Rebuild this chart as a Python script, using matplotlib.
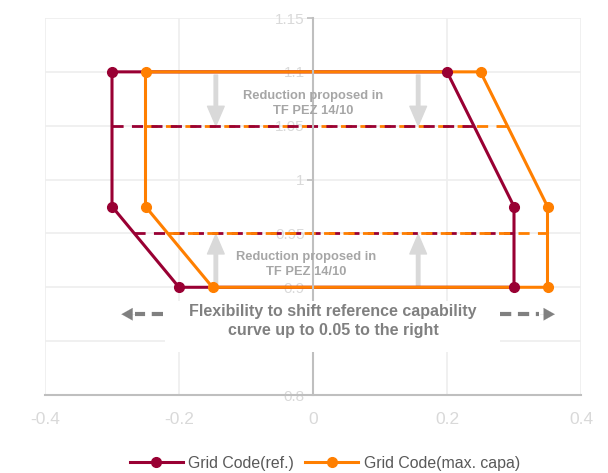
import matplotlib
matplotlib.use("Agg")
import matplotlib.pyplot as plt
from matplotlib.patches import Rectangle

plt.rcParams['font.family'] = ['Liberation Sans', 'DejaVu Sans']

# Capability curves (closed polygons)
ref_x = [-0.3, 0.2, 0.3, 0.3, -0.2, -0.3, -0.3]
ref_y = [1.1, 1.1, 0.975, 0.9, 0.9, 0.975, 1.1]
max_x = [-0.25, 0.25, 0.35, 0.35, -0.15, -0.25, -0.25]
max_y = [1.1, 1.1, 0.975, 0.9, 0.9, 0.975, 1.1]

# Proposed reduced limits
upper_cut_y = 1.05
ref_upper_x = [-0.3, 0.24]
max_upper_x = [-0.25, 0.29]
lower_cut_y = 0.95
ref_lower_x = [-0.267, 0.3]
max_lower_x = [-0.217, 0.35]

x_ticks = [-0.4, -0.2, 0, 0.2, 0.4]
x_labels = ['-0.4', '-0.2', '0', '0.2', '0.4']
# the 0.85 label sits under the note panel
y_ticks = [0.8, 0.85, 0.9, 0.95, 1.0, 1.05, 1.1, 1.15]
y_labels = ['0.8', '', '0.9', '0.95', '1', '1.05', '1.1', '1.15']

arrow_x = [-0.145, 0.157]

RED = '#990033'
ORANGE = '#FF7F00'
LIGHT = '#d9d9d9'
GRID = '#eeeeee'

fig = plt.figure(figsize=(6.08, 4.73), dpi=100)
ax = fig.add_axes([45 / 608, 1 - 395 / 473, 536 / 608, 377 / 473])

ax.set_xlim(-0.4, 0.4)
ax.set_ylim(0.8, 1.15)
ax.set_xticks(x_ticks)
ax.set_xticklabels(x_labels)
ax.set_yticks(y_ticks)
ax.set_yticklabels(y_labels)
ax.grid(True, color=GRID, lw=1.2)

for s in ['top', 'right']:
    ax.spines[s].set_visible(False)
ax.spines['left'].set_position(('data', 0))
ax.spines['left'].set_color('#bfbfbf')
ax.spines['left'].set_linewidth(1.5)
ax.spines['bottom'].set_color('#bfbfbf')
ax.spines['bottom'].set_linewidth(1.5)
ax.tick_params(axis='y', colors='#bfbfbf', labelcolor=LIGHT, labelsize=11,
               length=4, width=1.2, pad=2)
ax.tick_params(axis='x', length=0, labelcolor=LIGHT, labelsize=12.5, pad=12)

# dashed reduction levels
ax.plot(max_upper_x, [upper_cut_y] * 2, color=ORANGE, lw=2, ls=(0, (4, 3)), zorder=1.6)
ax.plot(ref_upper_x, [upper_cut_y] * 2, color=RED, lw=2, ls=(0, (4, 3)), zorder=1.7)
ax.plot(ref_lower_x, [lower_cut_y] * 2, color=RED, lw=2, ls=(0, (4, 3)), zorder=1.6)
ax.plot(max_lower_x, [lower_cut_y] * 2, color=ORANGE, lw=2, ls=(0, (4, 3)), zorder=1.7)

# reduction arrows
for xa in arrow_x:
    ax.annotate('', xy=(xa, 1.05), xytext=(xa, 1.097),
                arrowprops=dict(width=2.5, headwidth=12, headlength=14,
                                color=LIGHT, shrink=0), zorder=1.5)
    ax.annotate('', xy=(xa, 0.949), xytext=(xa, 0.9),
                arrowprops=dict(width=2.5, headwidth=12, headlength=14,
                                color=LIGHT, shrink=0), zorder=1.5)

# curves: lines first, then markers
ax.plot(ref_x, ref_y, color=RED, lw=2.2, zorder=2.0)
ax.plot(max_x, max_y, color=ORANGE, lw=2.2, zorder=2.1)
ax.plot(ref_x[:-1], ref_y[:-1], ls='none', marker='o', ms=7, color=RED, zorder=2.2)
ax.plot(max_x[:-1], max_y[:-1], ls='none', marker='o', ms=7, color=ORANGE, zorder=2.3)

ax.text(0.0, 1.071, 'Reduction proposed in\nTF PEZ 14/10', ha='center', va='center',
        fontsize=9.3, fontweight='bold', color='#a6a6a6', linespacing=1.35, zorder=3)
ax.text(-0.01, 0.921, 'Reduction proposed in\nTF PEZ 14/10', ha='center', va='center',
        fontsize=9.3, fontweight='bold', color='#a6a6a6', linespacing=1.35, zorder=3)

# flexibility note on a white panel
ax.add_patch(Rectangle((-0.221, 0.84), 0.5, 0.047, facecolor='white',
                       edgecolor='none', zorder=3))
ax.text(0.03, 0.8684, 'Flexibility to shift reference capability\ncurve up to 0.05 to the right',
        ha='center', va='center', fontsize=11.5, fontweight='bold', color='#808080',
        linespacing=1.33, zorder=4)

GRAY = '#808080'
ax.plot([-0.224, -0.265], [0.875, 0.875], color=GRAY, lw=3, ls=(0, (2.7, 1.6)), zorder=4)
ax.annotate('', xy=(-0.286, 0.875), xytext=(-0.264, 0.875),
            arrowprops=dict(arrowstyle='-|>,head_length=0.8,head_width=0.45',
                            color=GRAY, lw=0.1, shrinkA=0, shrinkB=0), zorder=4)
ax.plot([0.279, 0.338], [0.875, 0.875], color=GRAY, lw=3, ls=(0, (2.7, 1.6)), zorder=4)
ax.annotate('', xy=(0.361, 0.875), xytext=(0.339, 0.875),
            arrowprops=dict(arrowstyle='-|>,head_length=0.8,head_width=0.45',
                            color=GRAY, lw=0.1, shrinkA=0, shrinkB=0), zorder=4)

h1, = ax.plot([], [], color=RED, lw=2.2, marker='o', ms=7, label='Grid Code(ref.)')
h2, = ax.plot([], [], color=ORANGE, lw=2.2, marker='o', ms=7, label='Grid Code(max. capa)')
leg = fig.legend(handles=[h1, h2], loc='center', bbox_to_anchor=(0.5345, 1 - 463 / 473),
                 ncol=2, frameon=False, fontsize=11.4, handlelength=3.35,
                 handletextpad=0.35, columnspacing=0.7)
for t in leg.get_texts():
    t.set_color('#595959')

fig.savefig('out.png', dpi=100)
